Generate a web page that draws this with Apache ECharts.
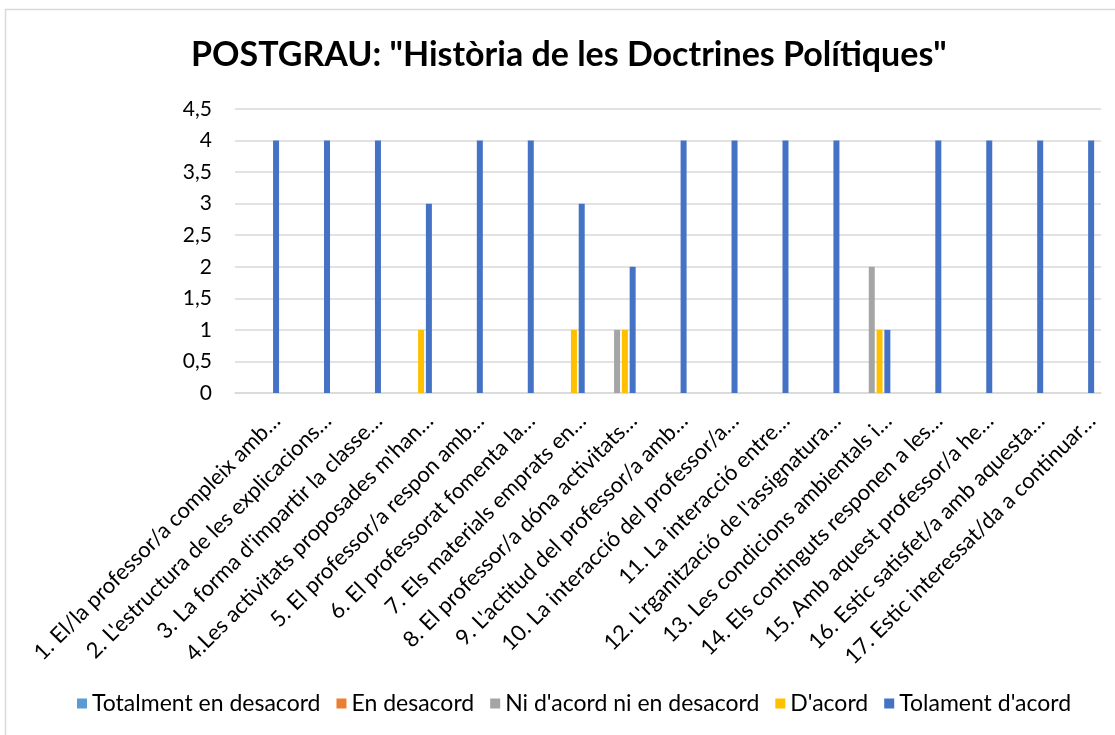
<!DOCTYPE html>
<html>
<head>
<meta charset="utf-8">
<script src="https://cdn.jsdelivr.net/npm/echarts@6/dist/echarts.min.js"></script>
<style>
html,body{margin:0;padding:0;background:#fff;}
#chart{width:1115px;height:735px;}
</style>
</head>
<body>
<div id="chart"></div>
<script>
const titleText = 'POSTGRAU: "Història de les Doctrines Polítiques"';
const categories = [
  "1. El/la professor/a compleix amb…",
  "2. L'estructura de les explicacions…",
  "3. La forma d'impartir la classe…",
  "4.Les activitats proposades m'han…",
  "5. El professor/a respon amb…",
  "6. El professorat fomenta la…",
  "7. Els materials emprats en…",
  "8. El professor/a dóna activitats…",
  "9. L'actitud del professor/a amb…",
  "10. La interacció del professor/a…",
  "11. La interacció entre…",
  "12. L'rganització de l'assignatura…",
  "13. Les condicions ambientals i…",
  "14. Els continguts responen a les…",
  "15. Amb aquest professor/a he…",
  "16. Estic satisfet/a amb aquesta…",
  "17. Estic interessat/da a continuar…"
];
const seriesNames = ["Totalment en desacord", "En desacord", "Ni d'acord ni en desacord", "D'acord", "Tolament d'acord"];
const totalmentDesacord = [0,0,0,0,0,0,0,0,0,0,0,0,0,0,0,0,0];
const enDesacord        = [0,0,0,0,0,0,0,0,0,0,0,0,0,0,0,0,0];
const niAcord           = [0,0,0,0,0,0,0,1,0,0,0,0,2,0,0,0,0];
const dAcord            = [0,0,0,1,0,0,1,1,0,0,0,0,1,0,0,0,0];
const tolamentAcord     = [4,4,4,3,4,4,3,2,4,4,4,4,1,4,4,4,4];
const yTicks = [0, 0.5, 1, 1.5, 2, 2.5, 3, 3.5, 4, 4.5];

const colors = ['#5B9BD5', '#ED7D31', '#A5A5A5', '#FFC000', '#4472C4'];
const allData = [totalmentDesacord, enDesacord, niAcord, dAcord, tolamentAcord];
const FONT = 'Lato';

const chart = echarts.init(document.getElementById('chart'), null, {renderer: 'canvas'});
chart.setOption({
  animation: false,
  backgroundColor: '#fff',
  color: colors,
  textStyle: {fontFamily: FONT, color: '#000'},
  title: {
    text: titleText,
    left: 186,
    top: 33,
    textStyle: {fontFamily: FONT, fontSize: 34, fontWeight: 'bold', color: '#000'}
  },
  graphic: [{
    type: 'rect',
    shape: {x: 5.5, y: 9.5, width: 1200, height: 800},
    style: {fill: 'none', stroke: '#d9d9d9', lineWidth: 1.5},
    silent: true
  }],
  legend: {
    bottom: 15,
    left: 72,
    itemWidth: 10,
    itemHeight: 10,
    itemGap: 16,
    icon: 'rect',
    textStyle: {fontFamily: FONT, fontSize: 23, color: '#000'},
    data: seriesNames
  },
  grid: {left: 235, right: 14, top: 109, bottom: 342, containLabel: false},
  xAxis: {
    type: 'category',
    data: categories,
    axisTick: {show: false},
    axisLine: {lineStyle: {color: '#d9d9d9', width: 1.5}},
    axisLabel: {interval: 0, rotate: 45, fontFamily: FONT, fontSize: 22, color: '#000', margin: 8, verticalAlign: 'top', padding: [12, 0, 0, 0]}
  },
  yAxis: {
    type: 'value',
    min: yTicks[0],
    max: yTicks[yTicks.length - 1],
    interval: 0.5,
    axisLine: {show: false},
    axisTick: {show: false},
    splitLine: {lineStyle: {color: '#d9d9d9', width: 1.5}},
    axisLabel: {
      fontFamily: FONT, fontSize: 21, color: '#000', margin: 23,
      formatter: v => String(v).replace('.', ',')
    }
  },
  series: seriesNames.map((n, i) => ({
    name: n,
    type: 'bar',
    data: allData[i],
    barWidth: 6,
    barGap: '30%',
    itemStyle: {color: colors[i]}
  }))
});
</script>
</body>
</html>
